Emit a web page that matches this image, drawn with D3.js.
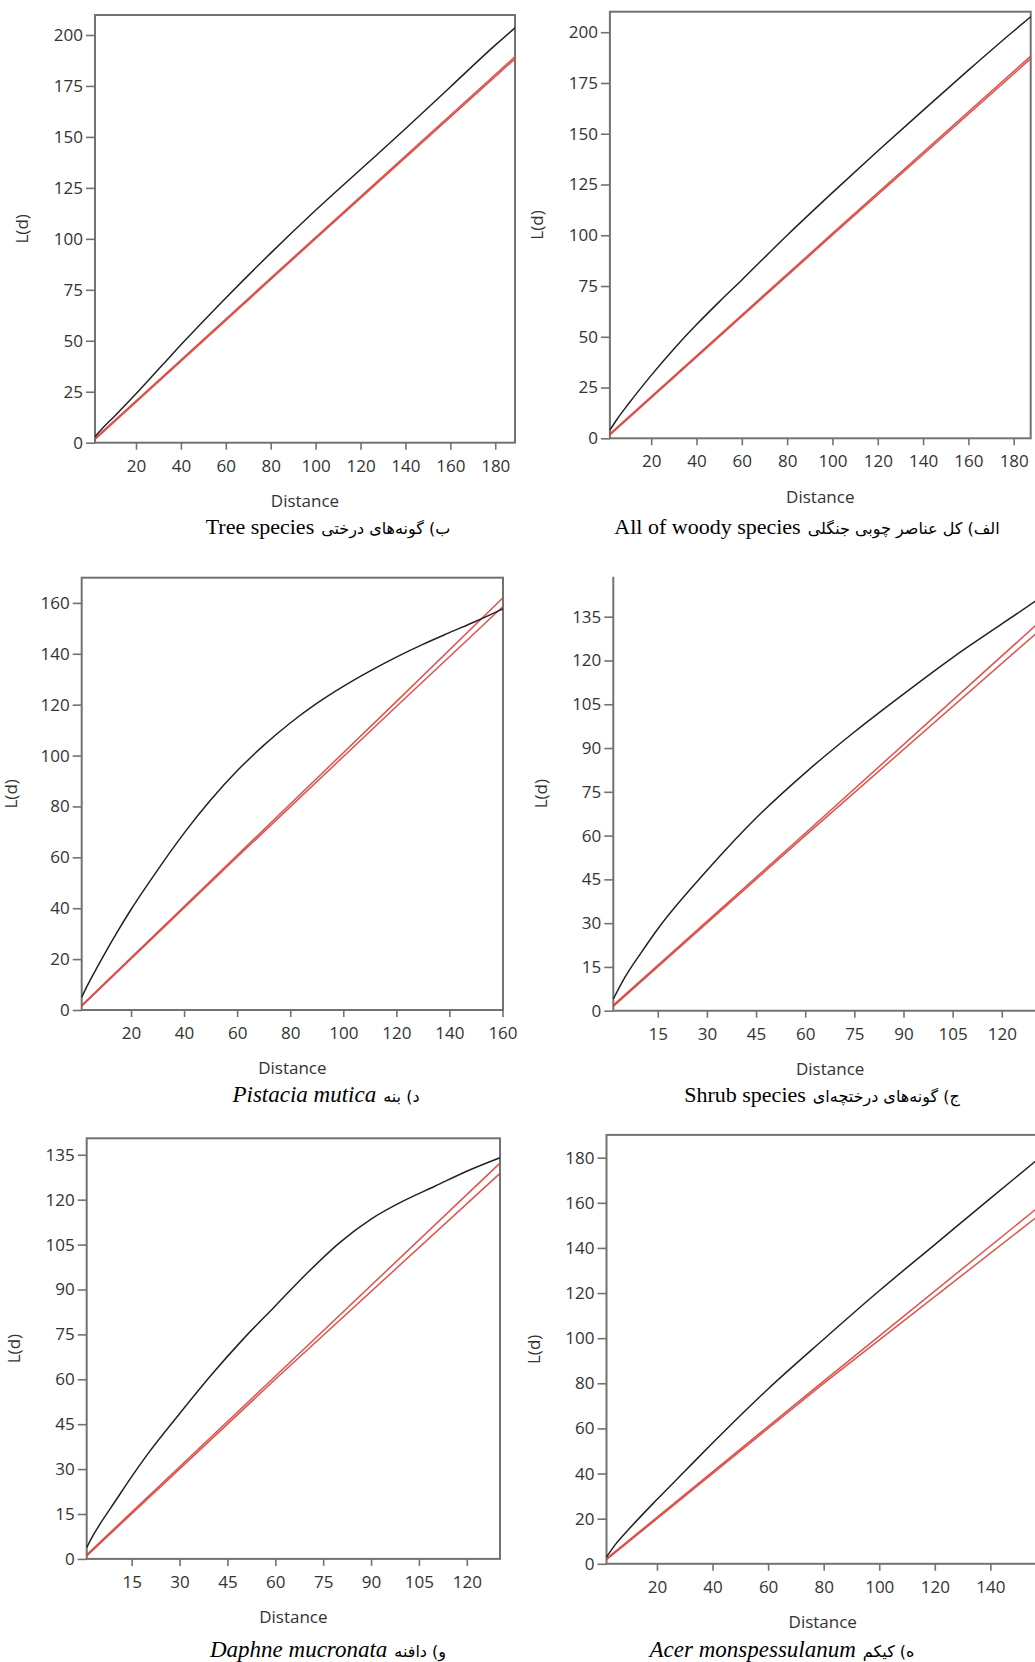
<!DOCTYPE html>
<html><head><meta charset="utf-8">
<script src="https://cdn.jsdelivr.net/npm/d3@7"></script>
<style>
body{margin:0;background:#fff;}
svg{display:block;background:#fff;}
</style></head><body>
<svg id="c" width="1035" height="1662"></svg>
<script>
// ---------- DATA ----------
// (ب) Tree species
const treeDist  = [1.74, 5, 10, 20, 30, 40, 60, 80, 100, 120, 140, 160, 180, 188.8];
const treeL     = [3, 7, 12.5, 24, 36, 48, 71, 93, 114, 134, 154, 174.5, 195, 203.5];
const treeEnvD  = [1.74, 100, 188.8];
const treeUpper = [2.2, 100.8, 189.3];
const treeLower = [1.6, 100.1, 188.3];

// (الف) All of woody species
const allDist  = [1.77, 5, 10, 20, 30, 40, 50, 60, 80, 100, 120, 140, 160, 180, 187.5];
const allL     = [4, 9.5, 17, 31, 44, 56, 67.2, 78, 100, 121, 141.5, 161.5, 181.3, 200.6, 207.6];
const allEnvD  = [1.77, 100, 187.5];
const allUpper = [2.2, 100.9, 188.2];
const allLower = [1.6, 100.1, 187.0];

// (د) Pistacia mutica
const pisDist  = [1.41, 3, 5, 10, 15, 20, 30, 40, 50, 60, 70, 80, 90, 100, 110, 120, 130, 140, 150, 160.2];
const pisL     = [5, 8.5, 12.5, 22, 31, 39.5, 55, 69.5, 82.5, 94, 104, 112.8, 120.5, 127.2, 133.2, 138.7, 143.7, 148.3, 152.8, 157.7];
const pisEnvD  = [1.41, 60, 120, 160.2];
const pisUpper = [1.9, 60.8, 121.2, 162];
const pisLower = [1.5, 60.1, 119.3, 158.6];

// (ج) Shrub species
const shrDist  = [1.43, 5, 10, 15, 30, 45, 60, 75, 90, 105, 120, 133.8];
const shrL     = [4, 11.5, 20, 28, 48, 66, 81.5, 95.5, 108.5, 121, 132.5, 143];
const shrEnvD  = [1.43, 60, 133.8];
const shrUpper = [1.9, 60.8, 135.5];
const shrLower = [1.5, 60, 132.5];

// (و) Daphne mucronata
const dapDist  = [0.91, 3, 5, 10, 15, 20, 30, 40, 50, 60, 70, 80, 90, 100, 110, 120, 130.4];
const dapL     = [3.8, 8, 11.5, 19.5, 27.5, 35, 48.5, 61.5, 73.5, 84.5, 95.5, 105.5, 113.5, 119.5, 124.5, 129.5, 134];
const dapEnvD  = [0.91, 60, 130.4];
const dapUpper = [1.4, 61, 132.2];
const dapLower = [1.0, 60, 128.8];

// (ه) Acer monspessulanum
const aceDist  = [1.84, 5, 10, 20, 30, 40, 60, 80, 100, 120, 140, 157];
const aceL     = [3, 8.5, 15.5, 28.5, 41, 53.5, 77.5, 99.5, 121, 141.5, 162, 179.2];
const aceEnvD  = [1.84, 80, 157];
const aceUpper = [2.3, 81, 157.8];
const aceLower = [1.8, 80, 154];

// tick labels
const ticks20to180 = [20, 40, 60, 80, 100, 120, 140, 160, 180];
const ticks0to200  = [0, 25, 50, 75, 100, 125, 150, 175, 200];
const ticks20to160 = [20, 40, 60, 80, 100, 120, 140, 160];
const ticks0to160  = [0, 20, 40, 60, 80, 100, 120, 140, 160];
const ticks15to120 = [15, 30, 45, 60, 75, 90, 105, 120];
const ticks0to135  = [0, 15, 30, 45, 60, 75, 90, 105, 120, 135];
const ticks20to140 = [20, 40, 60, 80, 100, 120, 140];
const ticks0to180  = [0, 20, 40, 60, 80, 100, 120, 140, 160, 180];

// captions
const capTree  = {fa: "ب) گونه‌های درختی", en: "Tree species", it: false};
const capAll   = {fa: "الف) کل عناصر چوبی جنگلی", en: "All of woody species", it: false};
const capPis   = {fa: "د) بنه", en: "Pistacia mutica", it: true};
const capShr   = {fa: "ج) گونه‌های درختچه‌ای", en: "Shrub species", it: false};
const capDap   = {fa: "و) دافنه", en: "Daphne mucronata", it: true};
const capAce   = {fa: "ه) کیکم", en: "Acer monspessulanum", it: true};

const xTitle = "Distance";
const yTitle = "L(d)";

// ---------- LAYOUT ----------
const panels = [
  {box:[95,15,515,442.7],      xd:[1.74,188.8], yd:[0,209.8], xt:ticks20to180, yt:ticks0to200,
   dist:treeDist, obs:treeL, envD:treeEnvD, up:treeUpper, lo:treeLower, full:true, cap:capTree, capX:328, capY:527, yl:72.5},
  {box:[609.9,11.7,1030.7,438.3], xd:[1.77,187.5], yd:[0,210.1], xt:ticks20to180, yt:ticks0to200,
   dist:allDist, obs:allL, envD:allEnvD, up:allUpper, lo:allLower, full:true, cap:capAll, capX:807, capY:527, yl:72.5},
  {box:[81.7,577.7,503,1010],   xd:[1.41,160.2], yd:[0,169.9], xt:ticks20to160, yt:ticks0to160,
   dist:pisDist, obs:pisL, envD:pisEnvD, up:pisUpper, lo:pisLower, full:true, cap:capPis, capX:326, capY:1094.5, yl:70.5},
  {box:[613.3,576.7,1047,1010.7], xd:[1.43,133.8], yd:[0,148.7], xt:ticks15to120, yt:ticks0to135,
   dist:shrDist, obs:shrL, envD:shrEnvD, up:shrUpper, lo:shrLower, full:false, cap:capShr, capX:822, capY:1094.5, yl:72.5},
  {box:[86.7,1138.3,500,1558.9], xd:[0.91,130.4], yd:[0,140.5], xt:ticks15to120, yt:ticks0to135,
   dist:dapDist, obs:dapL, envD:dapEnvD, up:dapUpper, lo:dapLower, full:true, cap:capDap, capX:328, capY:1649.5, yl:72.5},
  {box:[606.5,1134.9,1039,1563.8], xd:[1.84,157.5], yd:[0,190.1], xt:ticks20to140, yt:ticks0to180,
   dist:aceDist, obs:aceL, envD:aceEnvD, up:aceUpper, lo:aceLower, full:true, cap:capAce, capX:782, capY:1649.5, yl:72.5}
];

const svg = d3.select("#c");
const FONT = "'Open Sans', 'Noto Sans', sans-serif";
const FRAME = "#727272";
const TXT = "#333";

panels.forEach((p, i) => {
  const [L, T, R, B] = p.box;
  const x = d3.scaleLinear().domain(p.xd).range([L, R]);
  const y = d3.scaleLinear().domain(p.yd).range([B, T]);
  const g = svg.append("g");

  // frame
  if (p.full) {
    g.append("rect").attr("x", L).attr("y", T).attr("width", R - L).attr("height", B - T)
      .attr("fill", "none").attr("stroke", FRAME).attr("stroke-width", 2);
  } else {
    g.append("path").attr("d", `M${L},${T}V${B}H${R}`)
      .attr("fill", "none").attr("stroke", FRAME).attr("stroke-width", 2);
  }

  // axes
  const ax = g.append("g").attr("transform", `translate(0,${B})`)
    .call(d3.axisBottom(x).tickValues(p.xt).tickSize(7).tickPadding(10).tickSizeOuter(0));
  const ay = g.append("g").attr("transform", `translate(${L},0)`)
    .call(d3.axisLeft(y).tickValues(p.yt).tickSize(9).tickPadding(3).tickSizeOuter(0));
  [ax, ay].forEach(a => {
    a.select(".domain").remove();
    a.selectAll(".tick line").attr("stroke", FRAME).attr("stroke-width", 1.6);
    a.selectAll(".tick text").attr("fill", TXT).style("font-family", FONT).style("font-size", "17px");
  });

  // titles
  g.append("text").attr("x", (L + R) / 2).attr("y", B + 58.5).attr("dy", "0.35em")
    .attr("text-anchor", "middle").attr("fill", TXT)
    .style("font-family", FONT).style("font-size", "17px").text(xTitle);
  g.append("text").attr("transform", `translate(${L - p.yl},${(T + B) / 2}) rotate(-90)`)
    .attr("dy", "0.35em").attr("text-anchor", "middle").attr("fill", TXT)
    .style("font-family", FONT).style("font-size", "17px").text(yTitle);

  // lines
  const envData = (vals) => p.envD.map((d, k) => [d, vals[k]]);
  const lin = d3.line().x(d => x(d[0])).y(d => y(d[1]));
  const smooth = d3.line().x(d => x(d[0])).y(d => y(d[1])).curve(d3.curveMonotoneX);
  [p.up, p.lo].forEach(v => {
    g.append("path").attr("d", lin(envData(v))).attr("fill", "none")
      .attr("stroke", "#d8403a").attr("stroke-width", 1.5).attr("stroke-opacity", 0.9);
  });
  g.append("path").attr("d", smooth(p.dist.map((d, k) => [d, p.obs[k]])))
    .attr("fill", "none").attr("stroke", "#222").attr("stroke-width", 1.5);

  // caption: English (left) + Persian (right)
  const cg = svg.append("g");
  const en = cg.append("text").attr("y", p.capY + 7)
    .style("font-family", "'Liberation Serif', 'Times New Roman', serif")
    .style("font-size", p.cap.it ? "23px" : "22px").style("font-style", p.cap.it ? "italic" : "normal")
    .attr("fill", "#000").text(p.cap.en);
  const fa = cg.append("text").attr("y", p.capY + 7)
    .style("font-family", "'DejaVu Sans', sans-serif").style("font-size", "16px")
    .attr("fill", "#000").text(p.cap.fa);
  const wEn = en.node().getComputedTextLength();
  const wFa = fa.node().getComputedTextLength();
  const gap = 7;
  const x0 = p.capX - (wEn + gap + wFa) / 2;
  en.attr("x", x0);
  fa.attr("x", x0 + wEn + gap);
});
</script>
</body></html>
